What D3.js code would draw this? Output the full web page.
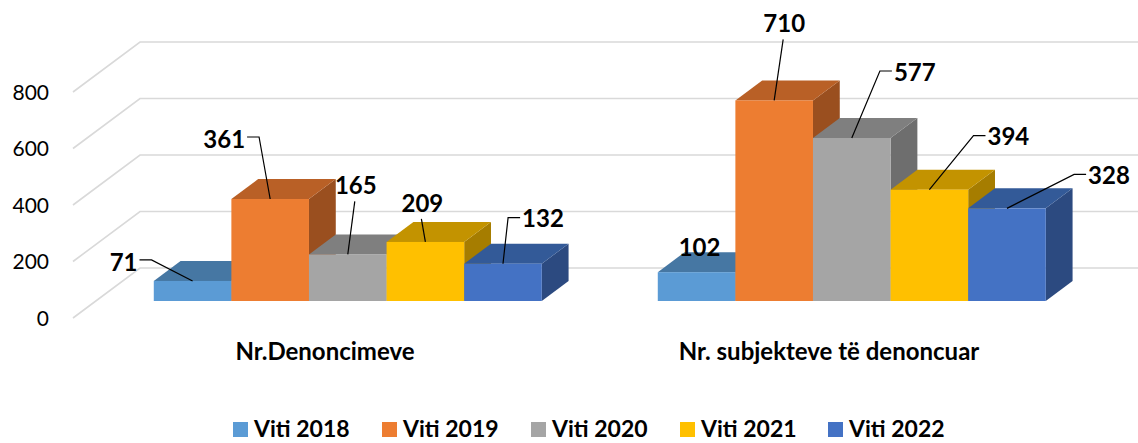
<!DOCTYPE html>
<html>
<head>
<meta charset="utf-8">
<script src="https://cdn.jsdelivr.net/npm/d3@7"></script>
<style>
  body { margin: 0; background: #fff; }
  svg { display: block; font-family: Lato, "Open Sans", sans-serif; }
</style>
</head>
<body>
<svg id="chart" width="1138" height="443"></svg>
<script>
const categories = ["Nr.Denoncimeve", "Nr. subjekteve të denoncuar"]
const years = ["Viti 2018", "Viti 2019", "Viti 2020", "Viti 2021", "Viti 2022"]
const v2018 = [71, 102]
const v2019 = [361, 710]
const v2020 = [165, 577]
const v2021 = [209, 394]
const v2022 = [132, 328]
const yTicks = [0, 200, 400, 600, 800]

const seriesValues = [v2018, v2019, v2020, v2021, v2022]

// front / top / side colours for each year
const colors = [
    { front: "#5b9bd5", top: "#4677a3", side: "#3d6a92" },
    { front: "#ed7d31", top: "#b96026", side: "#9a4f1f" },
    { front: "#a5a5a5", top: "#7f7f7f", side: "#6e6e6e" },
    { front: "#ffc000", top: "#c39300", side: "#a67d00" },
    { front: "#4472c4", top: "#335a98", side: "#2c4a80" }
]

// label placement (manually dragged in the original), relative to bar top
// [dx, dy, leader type]
const labelLayout = [
    [[-69, -19, "right"], [3, -25, "none"]],
    [[-46, -60, "right"], [10, -77, "below"]],
    [[8, -69, "below"], [63, -66, "left"]],
    [[-3, -39, "below"], [79, -53, "left"]],
    [[40, -45, "left"], [102, -33, "left"]]
]

const svg = d3.select("#chart")

// oblique 3D: full floor depth shifts by (67, -50)
const depth = { dx: 67, dy: -50 }
const barDepth = [0.34, 0.74]

const x0 = d3.scaleBand()
    .domain(categories)
    .range([73, 1081])

const x1 = d3.scaleBand()
    .domain(years)
    .range([58, 446])

const y = d3.scaleLinear()
    .domain([0, 800])
    .range([318, 92])

const per = (y(0) - y(200)) / 200

// gridlines: diagonal on the floor-side then along the back wall
const grid = svg.append("g")
yTicks.forEach(t => {
    const fy = y(t)
    grid.append("path")
        .attr("d", `M${x0.range()[0]},${fy} L${x0.range()[0] + depth.dx},${fy + depth.dy} L1138,${fy + depth.dy}`)
        .attr("fill", "none")
        .attr("stroke", "#d9d9d9")
        .attr("stroke-width", 1.6)
})

// y tick labels
svg.append("g").selectAll("text")
    .data(yTicks)
    .enter()
    .append("text")
    .attr("x", 49)
    .attr("y", d => y(d))
    .attr("dy", "0.36em")
    .attr("text-anchor", "end")
    .attr("font-size", 21)
    .attr("fill", "#000")
    .text(d => d)

// bars
const bars = []
categories.forEach((cat, ci) => {
    years.forEach((yr, si) => {
        const val = seriesValues[si][ci]
        const fx = x0(cat) + x1(yr) + barDepth[0] * depth.dx
        const fw = x1.bandwidth()
        const base = y(0) + barDepth[0] * depth.dy
        const top = base - val * per
        bars.push({ ci, si, val, fx, fw, base, top })
    })
})

const ddx = (barDepth[1] - barDepth[0]) * depth.dx
const ddy = (barDepth[1] - barDepth[0]) * depth.dy

const barG = svg.append("g")
bars.forEach(b => {
    const g = barG.append("g")
    const c = colors[b.si]
    // side face
    g.append("path")
        .attr("d", `M${b.fx + b.fw},${b.top} L${b.fx + b.fw + ddx},${b.top + ddy} L${b.fx + b.fw + ddx},${b.base + ddy} L${b.fx + b.fw},${b.base} Z`)
        .attr("fill", c.side)
    // top face
    g.append("path")
        .attr("d", `M${b.fx},${b.top} L${b.fx + ddx},${b.top + ddy} L${b.fx + b.fw + ddx},${b.top + ddy} L${b.fx + b.fw},${b.top} Z`)
        .attr("fill", c.top)
    // front face
    g.append("rect")
        .attr("x", b.fx)
        .attr("y", b.top)
        .attr("width", b.fw)
        .attr("height", b.base - b.top)
        .attr("fill", c.front)
})

// data labels with leader lines
const labG = svg.append("g")
bars.forEach(b => {
    const [dx, dy, kind] = labelLayout[b.si][b.ci]
    const ax = b.fx + b.fw / 2
    const ay = b.top
    const tx = ax + dx
    const ty = ay + dy
    const t = labG.append("text")
        .attr("x", tx)
        .attr("y", ty)
        .attr("dy", "0.36em")
        .attr("text-anchor", "middle")
        .attr("font-size", 24)
        .attr("font-weight", "bold")
        .attr("fill", "#000")
        .text(b.val)
    const w = t.node().getComputedTextLength()
    let d = null
    if (kind === "left") {
        const ex = tx - w / 2 - 2
        d = `M${ex},${ty - 1} L${ex - 12},${ty - 1} L${ax},${ay}`
    } else if (kind === "right") {
        const ex = tx + w / 2 + 2
        d = `M${ex},${ty - 2} L${ex + 12},${ty - 2} L${ax},${ay}`
    } else if (kind === "below") {
        d = `M${tx - 1},${ty + 16} L${ax},${ay}`
    }
    if (d) {
        labG.append("path")
            .attr("d", d)
            .attr("fill", "none")
            .attr("stroke", "#000")
            .attr("stroke-width", 1.2)
    }
})

// category labels
svg.append("g").selectAll("text")
    .data(categories)
    .enter()
    .append("text")
    .attr("x", d => x0(d) + x0.bandwidth() / 2)
    .attr("y", 351)
    .attr("dy", "0.36em")
    .attr("text-anchor", "middle")
    .attr("font-size", 24)
    .attr("font-weight", "bold")
    .attr("fill", "#000")
    .text(d => d)

// legend
const legendX = [233, 382, 531, 680, 828]
const leg = svg.append("g").selectAll("g")
    .data(years)
    .enter()
    .append("g")
    .attr("transform", (d, i) => `translate(${legendX[i]},437)`)

leg.append("rect")
    .attr("x", 0)
    .attr("y", -15)
    .attr("width", 15)
    .attr("height", 15)
    .attr("fill", (d, i) => colors[i].front)

leg.append("text")
    .attr("x", 21)
    .attr("y", 0)
    .attr("font-size", 23)
    .attr("font-weight", "bold")
    .attr("fill", "#000")
    .text(d => d)
</script>
</body>
</html>
